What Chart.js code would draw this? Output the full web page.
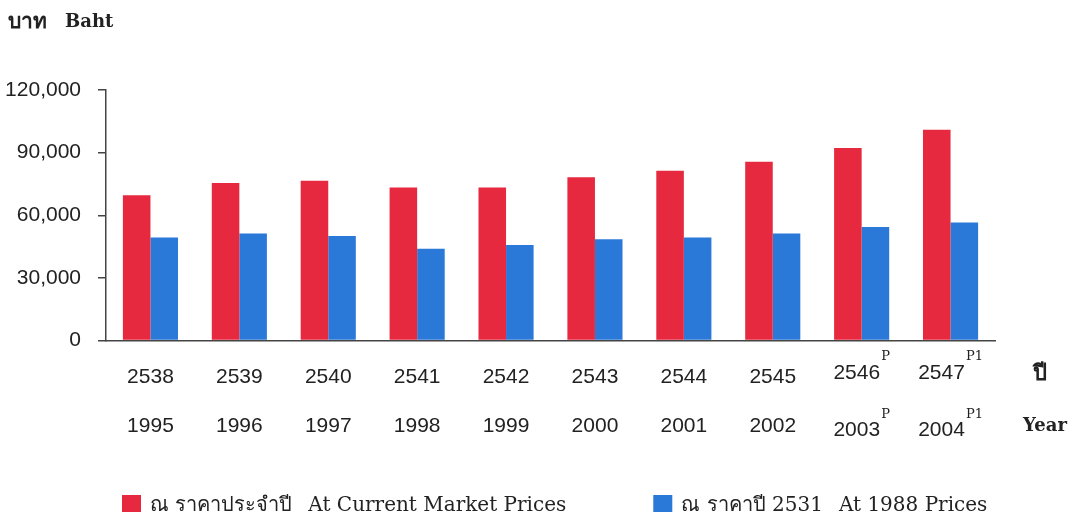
<!DOCTYPE html>
<html>
<head>
<meta charset="utf-8">
<script src="https://cdn.jsdelivr.net/npm/chart.js@4.4.1/dist/chart.umd.min.js"></script>
<style>
html, body { margin: 0; padding: 0; background: #fff; }
#wrap { width: 1081px; height: 520px; }
</style>
</head>
<body>
<div id="wrap"><canvas id="bahtChart" width="1081" height="520"></canvas></div>
<script>
// data
const thaiYears = ["2538", "2539", "2540", "2541", "2542", "2543", "2544", "2545", "2546", "2547"];
const ceYears = ["1995", "1996", "1997", "1998", "1999", "2000", "2001", "2002", "2003", "2004"];
const yearMarks = ["", "", "", "", "", "", "", "", "P", "P1"];

const currentPrices = [69600, 75400, 76500, 73300, 73300, 78200, 81300, 85600, 92200, 100900];
const fixedPrices = [49300, 51200, 50100, 44000, 45700, 48500, 49300, 51200, 54400, 56500];

const seriesNames = [
    "ณ ราคาประจำปี  At Current Market Prices",
    "ณ ราคาปี 2531  At 1988 Prices"
];
const yTicks = [0, 30000, 60000, 90000, 120000];

const numFont = "21px 'Liberation Sans', Arial, sans-serif";
const supFont = "13px 'DejaVu Serif', serif";
const thaiFont = "20px 'DejaVu Serif', serif";
const engFont = "20px 'DejaVu Serif', serif";
const boldSerif = "bold 18px 'DejaVu Serif', serif";

function drawYear(ctx, text, mark, cx, y, dy, supY) {
    ctx.font = numFont;
    const w = ctx.measureText(text).width;
    ctx.font = supFont;
    const s = mark ? ctx.measureText(mark).width + 1 : 0;
    const left = cx - (w + s) / 2;
    ctx.font = numFont;
    ctx.textAlign = "left";
    ctx.fillText(text, left, y + (mark ? dy : 0));
    if (mark) {
        ctx.font = supFont;
        ctx.fillText(mark, left + w + 1, supY);
    }
}

const extraText = {
    id: "extraText",
    afterDraw(chart) {
        const ctx = chart.ctx;
        const xs = chart.scales.x;
        ctx.save();
        ctx.fillStyle = "#222";
        ctx.textBaseline = "middle";

        // year labels under the bars
        thaiYears.forEach((t, i) => {
            const cx = xs.getPixelForValue(i);
            drawYear(ctx, t, yearMarks[i], cx, 377, -4, 357);
            drawYear(ctx, ceYears[i], yearMarks[i], cx, 426, 4, 415);
        });

        // row names on the right
        ctx.textAlign = "center";
        ctx.font = "bold 22px 'DejaVu Serif', serif";
        ctx.fillText("ปี", 1040, 374);
        ctx.font = boldSerif;
        ctx.fillText("Year", 1045, 426);

        // unit title
        ctx.textAlign = "left";
        ctx.font = "bold 21px 'DejaVu Serif', serif";
        ctx.fillText("บาท", 8, 23);
        ctx.font = boldSerif;
        ctx.fillText("Baht", 65, 22);

        // legend
        let lx = 122;
        chart.data.datasets.forEach(ds => {
            const [th, en] = ds.label.split("  ");
            ctx.fillStyle = ds.backgroundColor;
            ctx.fillRect(lx, 495, 19, 17);
            ctx.fillStyle = "#222";
            let tx = lx + 28;
            ctx.font = thaiFont;
            ctx.fillText(th, tx, 506);
            tx += ctx.measureText(th).width + 16;
            ctx.font = engFont;
            ctx.fillText(en, tx, 506);
            tx += ctx.measureText(en).width;
            lx = tx + 87;
        });
        ctx.restore();
    }
};

new Chart(document.getElementById("bahtChart"), {
    type: "bar",
    data: {
        labels: ceYears,
        datasets: [{
            label: seriesNames[0],
            data: currentPrices,
            backgroundColor: "#E6293F",
            categoryPercentage: 0.62,
            barPercentage: 1.0
        }, {
            label: seriesNames[1],
            data: fixedPrices,
            backgroundColor: "#2A79D8",
            categoryPercentage: 0.62,
            barPercentage: 1.0
        }]
    },
    options: {
        responsive: false,
        animation: false,
        layout: {
            padding: { top: 90, right: 86, bottom: 0, left: 0 }
        },
        plugins: {
            legend: { display: false },
            tooltip: { enabled: false }
        },
        scales: {
            x: {
                ticks: { display: false },
                grid: { display: false },
                border: { display: true, color: "#444", width: 1.5 },
                afterFit: scale => { scale.height = 179.5; }
            },
            y: {
                min: 0,
                max: 120000,
                afterBuildTicks: scale => {
                    scale.ticks = yTicks.map(v => ({ value: v }));
                },
                ticks: {
                    padding: 17,
                    color: "#222",
                    font: { family: "'Liberation Sans', Arial, sans-serif", size: 21 },
                    callback: v => v.toLocaleString("en-US")
                },
                grid: {
                    drawOnChartArea: false,
                    tickLength: 8,
                    color: "#444",
                    lineWidth: 1.5
                },
                border: { display: true, color: "#444", width: 1.5 },
                afterFit: scale => { scale.width = 106; }
            }
        }
    },
    plugins: [extraText]
});
</script>
</body>
</html>
